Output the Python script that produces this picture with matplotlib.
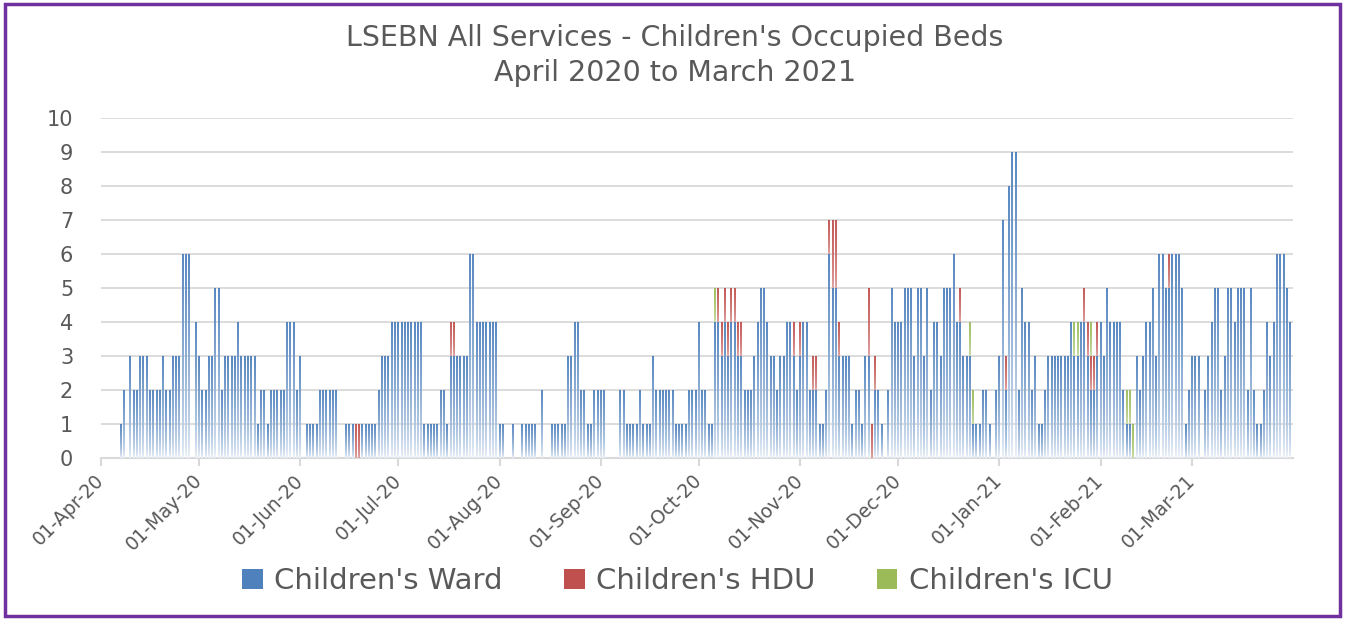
import numpy as np
import pandas as pd
import matplotlib
matplotlib.use('Agg')
from matplotlib import pyplot as plt
import matplotlib.dates as mdates
from matplotlib.patches import Patch, Rectangle
from matplotlib.colors import to_rgb

# one value per day, 01-Apr-20 .. 31-Mar-21
dates = pd.date_range('2020-04-01', '2021-03-31', freq='D')

ward = [
    0, 0, 0, 0, 0, 0, 1, 2, 0, 3,  2, 2, 3, 3, 3, 2, 2, 2, 2, 3,
    2, 2, 3, 3, 3, 6, 6, 6, 0, 4,  3, 2, 2, 3, 3, 5, 5, 2, 3, 3,
    3, 3, 4, 3, 3, 3, 3, 3, 1, 2,  2, 1, 2, 2, 2, 2, 2, 4, 4, 4,
    2, 3, 0, 1, 1, 1, 1, 2, 2, 2,  2, 2, 2, 0, 0, 1, 1, 1, 0, 0,
    1, 1, 1, 1, 1, 2, 3, 3, 3, 4,  4, 4, 4, 4, 4, 4, 4, 4, 4, 1,
    1, 1, 1, 1, 2, 2, 1, 3, 3, 3,  3, 3, 3, 6, 6, 4, 4, 4, 4, 4,
    4, 4, 1, 1, 0, 0, 1, 0, 0, 1,  1, 1, 1, 1, 0, 2, 0, 0, 1, 1,
    1, 1, 1, 3, 3, 4, 4, 2, 2, 1,  1, 2, 2, 2, 2, 0, 0, 0, 0, 2,
    2, 1, 1, 1, 1, 2, 1, 1, 1, 3,  2, 2, 2, 2, 2, 2, 1, 1, 1, 1,
    2, 2, 2, 4, 2, 2, 1, 1, 4, 4,  3, 4, 3, 4, 4, 3, 3, 2, 2, 2,
    3, 4, 5, 5, 4, 3, 3, 2, 3, 3,  4, 4, 3, 2, 3, 4, 4, 2, 2, 2,
    1, 1, 2, 6, 5, 5, 3, 3, 3, 3,  1, 2, 2, 1, 3, 3, 0, 2, 2, 1,
    0, 2, 5, 4, 4, 4, 5, 5, 5, 3,  5, 5, 3, 5, 2, 4, 4, 3, 5, 5,
    5, 6, 4, 4, 3, 3, 3, 1, 1, 1,  2, 2, 1, 0, 2, 3, 7, 2, 8, 9,
    9, 2, 5, 4, 4, 2, 3, 1, 1, 2,  3, 3, 3, 3, 3, 3, 3, 4, 3, 3,
    4, 4, 3, 2, 2, 3, 4, 3, 5, 4,  4, 4, 4, 2, 1, 1, 0, 3, 2, 3,
    4, 4, 5, 3, 6, 6, 5, 5, 6, 6,  6, 5, 1, 2, 3, 3, 3, 0, 2, 3,
    4, 5, 5, 2, 3, 5, 5, 4, 5, 5,  5, 2, 5, 2, 1, 1, 2, 4, 3, 4,
    6, 6, 6, 5, 4,
]

# HDU and ICU are mostly empty: day index (from 01-Apr-20) and beds
hdu_days = [78, 79, 107, 108, 189, 190, 191, 192, 193, 194, 195, 196, 212, 214,
            218, 219, 223, 224, 225, 226, 235, 236, 237, 263, 277, 301, 302,
            303, 304, 305, 327]
hdu_beds = [1, 1, 1, 1, 1, 1, 1, 1, 1, 1, 1, 1, 1, 1,
            1, 1, 1, 2, 2, 1, 2, 1, 1, 1, 1, 1, 1,
            1, 1, 1, 1]
icu_days = [188, 266, 267, 298, 299, 303, 314, 315, 316]
icu_beds = [1, 1, 1, 1, 1, 1, 1, 1, 1]

labels = ["Children's Ward", "Children's HDU", "Children's ICU"]
colors = ['#4F81BD', '#C0504D', '#9BBB59']

hdu = np.zeros(len(dates))
hdu[hdu_days] = hdu_beds
icu = np.zeros(len(dates))
icu[icu_days] = icu_beds

fig = plt.figure(figsize=(13.5, 6.2), dpi=100)
# plot area is 340 px tall, so one bed = 34 px
ax = fig.add_axes([101 / 1350, 1 - 458 / 620, 1192 / 1350, 340 / 620])
px_per_bed = 34

x = mdates.date2num(dates)
bottom = np.zeros(len(dates))
# each stacked segment fades from its top colour down to near white;
# drawn as one-pixel-tall pieces so the joins fall on pixel edges
for vals, col, floor in [(np.array(ward, float), colors[0], 0.06),
                         (hdu, colors[1], 0.5),
                         (icu, colors[2], 0.5)]:
    base = np.array(to_rgb(col))
    xs, lo, hi, cs = [], [], [], []
    for xi, b, h in zip(x, bottom, vals):
        if h <= 0:
            continue
        n = int(round(h * px_per_bed))
        for k in range(n):
            t = (k + 0.5) / n
            w = floor + (1 - floor) * t ** 0.6
            xs.append(xi)
            lo.append(b + h * k / n)
            hi.append(b + h * (k + 1) / n)
            cs.append(1 - w * (1 - base))
    ax.vlines(xs, lo, hi, colors=cs, lw=1.35, capstyle='butt', zorder=3)
    bottom += vals

ax.set_xlim(x[0], x[-1] + 0.9)
ax.set_ylim(0, 10)
ax.set_yticks(range(11))
month_starts = [d for d in dates if d.day == 1]
ax.set_xticks(mdates.date2num(month_starts))
ax.set_xticklabels([d.strftime('%d-%b-%y') for d in month_starts],
                   rotation=45, ha='right', va='center', rotation_mode='anchor')

ax.grid(axis='y', color='#d9d9d9', lw=1.3)
ax.set_axisbelow(True)
for s in ['left', 'right', 'top']:
    ax.spines[s].set_visible(False)
ax.spines['bottom'].set_color('#d9d9d9')
ax.spines['bottom'].set_linewidth(1.5)
ax.tick_params(axis='y', length=0, pad=20, labelsize=15, labelcolor='#595959')
ax.tick_params(axis='x', length=6, width=1.5, color='#d9d9d9', pad=8,
               labelsize=13.5, labelcolor='#595959')

fig.text(0.5, 1 - 38 / 620, "LSEBN All Services - Children's Occupied Beds",
         ha='center', va='center', fontsize=20.5, color='#595959')
fig.text(0.5, 1 - 73 / 620, "April 2020 to March 2021",
         ha='center', va='center', fontsize=20.5, color='#595959')

handles = [Patch(facecolor=c) for c in colors]
fig.legend(handles, labels, loc='center', bbox_to_anchor=(0.502, 1 - 581 / 620),
           ncol=3, frameon=False, fontsize=21, handlelength=0.7, handleheight=0.7,
           handletextpad=0.4, columnspacing=2.1, labelcolor='#595959')

# purple outline round the chart
fig.patches.append(Rectangle((5 / 1350, 4 / 620), 1335 / 1350, 612 / 620,
                             transform=fig.transFigure, fill=False,
                             ec='#7030A0', lw=2.5))

fig.savefig('out.png', dpi=100, facecolor='white')
